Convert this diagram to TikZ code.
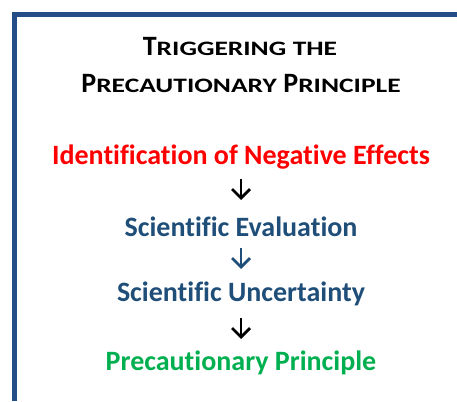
\documentclass[tikz,border=0pt]{standalone}
\usepackage{fontspec}
\usepackage{graphicx}
\setmainfont{Carlito}[Ligatures=NoCommon]
\usetikzlibrary{arrows.meta}
\definecolor{frameblue}{HTML}{244C86}
\definecolor{textblue}{HTML}{1F4E79}
\definecolor{mygreen}{HTML}{00B050}
\definecolor{myred}{HTML}{FF0000}
\newcommand{\mysmc}[1]{{\fontsize{20.5}{22}\selectfont\scalebox{1.34}[1]{#1}}}
\newcommand{\mygap}{\hspace{6.5pt}}
\tikzset{
  label text/.style={font=\bfseries\fontsize{28}{30}\selectfont, inner sep=0pt, anchor=base},
  title text/.style={font=\bfseries\fontsize{28}{30}\selectfont, inner sep=0pt, anchor=base, text=black},
  arr/.style={line width=2.8pt, -{Straight Barb[length=9pt,width=18pt,line width=2.8pt]}},
}
\begin{document}
\begin{tikzpicture}[x=1pt,y=-1pt]
\useasboundingbox (0,0) rectangle (457,401);
\fill[white] (0,0) rectangle (457,401);
\draw[frameblue, line width=5pt, line join=miter] (14.5,401) -- (14.5,14.5) -- (457,14.5);
\node[title text] (t1) at (240,56) {T\mysmc{RIGGERING}\mygap\mysmc{THE}};
\node[title text] (t2) at (241,93) {P\mysmc{RECAUTIONARY}\mygap P\mysmc{RINCIPLE}};
\node[label text, text=myred] (n1) at (241,164) {Identification of Negative Effects};
\node[label text, text=textblue] (n2) at (241,236) {Scientific Evaluation};
\node[label text, text=textblue] (n3) at (241,301) {Scientific Uncertainty};
\node[label text, text=mygreen] (n4) at (241,370) {Precautionary Principle};
\draw[arr, black, shorten <=15pt, shorten >=36pt] (n1.base) -- (n2.base);
\draw[arr, textblue, shorten <=12pt, shorten >=32pt] (n2.base) -- (n3.base);
\draw[arr, black, shorten <=17pt, shorten >=31pt] (n3.base) -- (n4.base);
\end{tikzpicture}
\end{document}
